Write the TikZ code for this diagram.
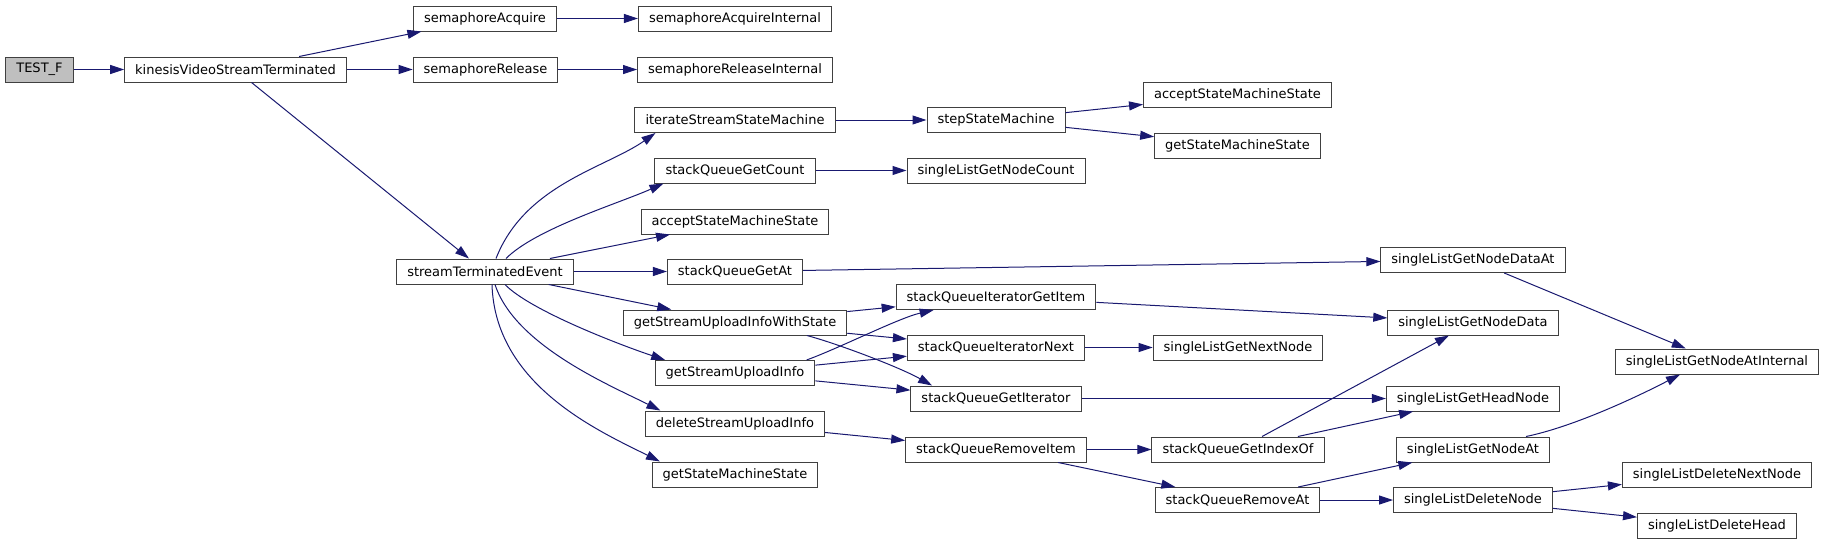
\documentclass[tikz,border=0pt]{standalone}
\usepackage{fontspec}
\setmainfont{DejaVu Sans}
\usetikzlibrary{arrows.meta,calc}
\definecolor{callblue}{RGB}{25,25,112}
\definecolor{boxline}{RGB}{64,64,64}
\definecolor{rootfill}{RGB}{191,191,191}
\tikzset{
  fn/.style={
    draw=boxline,
    line width=0.75pt,
    fill=white,
    minimum height=18.75pt,
    inner xsep=7.9pt,
    inner ysep=0pt,
    font=\fontsize{9.75}{11}\selectfont
  },
  root/.style={fn, fill=rootfill},
  call/.style={draw=callblue, line width=0.75pt, -{Triangle[length=10.5pt,width=6.75pt]}},
}

\begin{document}
\begin{tikzpicture}[x=0.75pt, y=-0.75pt]
  \useasboundingbox (0,0) rectangle (1825,544);
  % functions, placed in px from the top left
  \node[root] (testF) at (39.5,69.5) {TEST\_F};
  \foreach \n/\x/\y/\t in {
    kvst/235.5/69.5/kinesisVideoStreamTerminated,
    semAcq/485/18.5/semaphoreAcquire,
    semRel/485.5/69.5/semaphoreRelease,
    stEvent/485/271.5/streamTerminatedEvent,
    semAcqInt/735/18.5/semaphoreAcquireInternal,
    semRelInt/735/69.5/semaphoreReleaseInternal,
    iterSSM/735/120/iterateStreamStateMachine,
    sqGetCount/735/170.5/stackQueueGetCount,
    acceptSMSb/735/221.5/acceptStateMachineState,
    sqGetAt/735/271.5/stackQueueGetAt,
    gSUIWS/735/322.5/getStreamUploadInfoWithState,
    gSUI/735/373/getStreamUploadInfo,
    delSUI/735/423.5/deleteStreamUploadInfo,
    getSMSb/735/474.5/getStateMachineState,
    stepSM/996/120/stepStateMachine,
    slGetNodeCount/996/170.5/singleListGetNodeCount,
    sqIterGetItem/996/297/stackQueueIteratorGetItem,
    sqIterNext/996/347.5/stackQueueIteratorNext,
    sqGetIterator/996/398.5/stackQueueGetIterator,
    sqRemoveItem/996/449.5/stackQueueRemoveItem,
    acceptSMSa/1237.5/94.5/acceptStateMachineState,
    getSMSa/1237.5/145.5/getStateMachineState,
    slGetNextNode/1238/347.5/singleListGetNextNode,
    sqGetIndexOf/1238/449.5/stackQueueGetIndexOf,
    sqRemoveAt/1237.5/500/stackQueueRemoveAt,
    slGetNodeDataAt/1473/260/singleListGetNodeDataAt,
    slGetNodeData/1473/322.5/singleListGetNodeData,
    slGetHeadNode/1473/398.5/singleListGetHeadNode,
    slGetNodeAt/1473/449.5/singleListGetNodeAt,
    slDeleteNode/1473/500/singleListDeleteNode,
    slGetNodeAtInt/1717/361.5/singleListGetNodeAtInternal,
    slDelNextNode/1717/474.5/singleListDeleteNextNode,
    slDelHead/1717/525.5/singleListDeleteHead}
    \node[fn] (\n) at (\x,\y) {\t};

  % straight calls
  \foreach \a/\b in {
    testF/kvst, kvst/semAcq, kvst/semRel, kvst/stEvent,
    semAcq/semAcqInt, semRel/semRelInt,
    stEvent/acceptSMSb, stEvent/sqGetAt, stEvent/gSUIWS,
    iterSSM/stepSM, stepSM/acceptSMSa, stepSM/getSMSa,
    sqGetCount/slGetNodeCount, sqGetAt/slGetNodeDataAt, slGetNodeDataAt/slGetNodeAtInt,
    gSUIWS/sqIterGetItem, gSUIWS/sqIterNext, gSUI/sqIterNext, gSUI/sqGetIterator,
    sqIterGetItem/slGetNodeData, sqIterNext/slGetNextNode, sqGetIterator/slGetHeadNode,
    delSUI/sqRemoveItem, sqRemoveItem/sqGetIndexOf, sqRemoveItem/sqRemoveAt,
    sqGetIndexOf/slGetNodeData, sqGetIndexOf/slGetHeadNode,
    sqRemoveAt/slGetNodeAt, sqRemoveAt/slDeleteNode,
    slDeleteNode/slDelNextNode, slDeleteNode/slDelHead}
    \draw[call] (\a) -- (\b);

  % curved calls
  \draw[call] ($(stEvent.north)+(11,0)$) .. controls +(29,-74) and +(-50,35) .. ($(iterSSM.south west)+(21,0)$);
  \draw[call] ($(stEvent.north)+(21,0)$) .. controls +(30,-30) and +(-45,20) .. ($(sqGetCount.south west)+(9,0)$);
  \draw[call] ($(stEvent.south)+(20,0)$) .. controls +(25,26) and +(-45,-15) .. ($(gSUI.north west)+(10.5,0)$);
  \draw[call] ($(stEvent.south)+(10,0)$) .. controls +(20,61) and +(-50,-25) .. ($(delSUI.north west)+(15.5,0)$);
  \draw[call] ($(stEvent.south)+(7,0)$) .. controls +(3,101) and +(-60,-30) .. ($(getSMSb.north west)+(8.3,0)$);
  \draw[call] ($(gSUIWS.south)+(72,0)$) .. controls +(33,9) and +(-32,-18) .. ($(sqGetIterator.north west)+(21.6,0)$);
  \draw[call] ($(gSUI.north)+(71.6,0)$) .. controls +(33,-12) and +(-35,8) .. ($(sqIterGetItem.south west)+(38,0)$);
  \draw[call] ($(slGetNodeAt.north)+(53,0)$) .. controls +(44,-9) and +(-50,26) .. ($(slGetNodeAtInt.south)+(-37,0)$);
\end{tikzpicture}
\end{document}
